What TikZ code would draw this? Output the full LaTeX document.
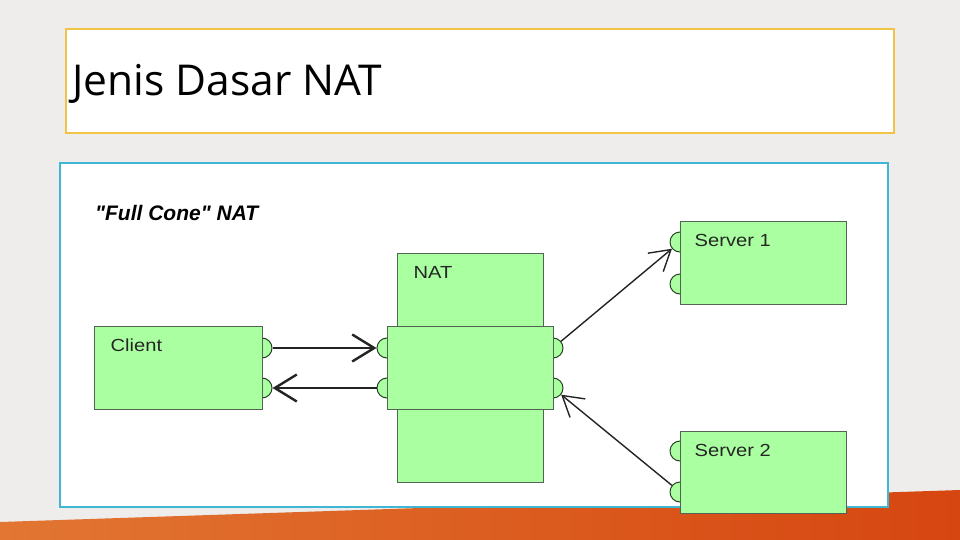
\documentclass[tikz,border=0pt]{standalone}
\usepackage{fontspec}
\setmainfont{Liberation Sans}
\newfontfamily\slidefont{Open Sans}
\newfontfamily\boxfont[FakeStretch=1.15]{Liberation Sans}
\newfontfamily\headfont[Ligatures=TeXOff]{Liberation Sans}
\usetikzlibrary{arrows.meta,calc,positioning}
\definecolor{slideBg}{RGB}{239,237,235}
\definecolor{bandLight}{RGB}{226,118,50}
\definecolor{bandDark}{RGB}{214,70,16}
\definecolor{titleGold}{RGB}{242,196,70}
\definecolor{frameCyan}{RGB}{62,182,212}
\definecolor{unitGreen}{RGB}{170,255,160}
\definecolor{unitEdge}{RGB}{84,100,84}
\definecolor{portEdge}{RGB}{40,64,40}
\definecolor{wireInk}{RGB}{36,36,36}

\begin{document}
\begin{tikzpicture}[
  x=1pt,y=-1pt,
  unit/.style={draw=unitEdge,line width=1pt,fill=unitGreen,inner sep=0pt},
  port/.style={circle,draw=portEdge,line width=1pt,fill=unitGreen,minimum size=20pt,inner sep=0pt},
  unitlabel/.style={anchor=base west,inner sep=0pt,font=\boxfont\fontsize{17.5}{20}\selectfont,text=black!85},
  flowbig/.style={-{Straight Barb[length=22pt,width=27pt]},line width=2.4pt,draw=wireInk},
  flow/.style={-{Straight Barb[length=20pt,width=24pt]},line width=1.4pt,draw=wireInk}
]

% slide background and orange band
\fill[slideBg] (0,0) rectangle (960,540);
\shade[left color=bandLight,right color=bandDark] (0,522) -- (960,490) -- (960,540) -- (0,540) -- cycle;

% title box
\draw[titleGold,line width=1.5pt,fill=white] (66,29) rectangle (894,133);
\node[anchor=base west,inner sep=0pt,font=\slidefont\fontsize{42.5}{46}\selectfont] (title) at (72,96) {Jenis Dasar NAT};

% diagram frame
\draw[frameCyan,line width=2pt,fill=white] (60,163) rectangle (888,507);
\node[anchor=base west,inner sep=0pt,font=\headfont\bfseries\itshape\fontsize{21}{24}\selectfont] (heading) at (95,220) {"Full Cone" NAT};

% ports first, boxes on top
\node[port] (cliA) at (262,348) {};
\node[port] (cliB) at (262,388) {};
\node[port] (natLA) at (387,348) {};
\node[port] (natLB) at (387,388) {};
\node[port] (natRA) at (553,348) {};
\node[port] (natRB) at (553,388) {};
\node[port] (srvAa) at (680,242) {};
\node[port] (srvAb) at (680,284) {};
\node[port] (srvBa) at (680,451) {};
\node[port] (srvBb) at (680,492) {};

\node[unit,minimum width=168pt,minimum height=83pt] (client) at (178,367.5) {};
\node[unit,minimum width=146pt,minimum height=229pt] (nat) at (470,367.5) {};
\node[unit,minimum width=166pt,minimum height=83pt] (natcore) at (470,367.5) {};
\node[unit,minimum width=166pt,minimum height=83pt] (server1) at (763,262.5) {};
\node[unit,minimum width=166pt,minimum height=82pt] (server2) at (763,472) {};

\node[unitlabel] (clientT) at ($(client.north west)+(17,26)$) {Client};
\node[unitlabel] (natT) at ($(nat.north west)+(17,26)$) {NAT};
\node[unitlabel] (server1T) at ($(server1.north west)+(15,26)$) {Server 1};
\node[unitlabel] (server2T) at ($(server2.north west)+(15,26)$) {Server 2};

% connections
\draw[flowbig] (cliA) -- (natLA);
\draw[flowbig] (natLB) -- (cliB);
\draw[flow] (natRA) -- (srvAa);
\draw[flow] (srvBb) -- (natRB);

\end{tikzpicture}
\end{document}
